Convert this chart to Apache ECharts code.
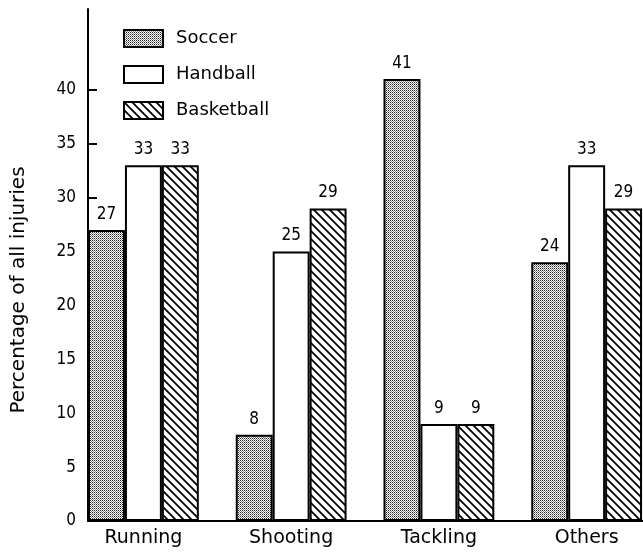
<!DOCTYPE html>
<html>
<head>
<meta charset="utf-8">
<script src="https://cdn.jsdelivr.net/npm/echarts@6/dist/echarts.min.js"></script>
<style>html,body{margin:0;padding:0;background:#fff}#c{width:643px;height:552px}</style>
</head>
<body>
<div id="c"></div>
<script>
var categories = ['Running', 'Shooting', 'Tackling', 'Others'];
var soccer = [27, 8, 41, 24];
var handball = [33, 25, 9, 33];
var basketball = [33, 29, 9, 29];
var yTicks = [0, 5, 10, 15, 20, 25, 30, 35, 40];

function makeStipple() {
  var c = document.createElement('canvas');
  c.width = 2; c.height = 2;
  var g = c.getContext('2d');
  g.fillStyle = '#fff'; g.fillRect(0, 0, 2, 2);
  g.fillStyle = '#222'; g.fillRect(0, 0, 1, 1);
  g.fillStyle = '#888'; g.fillRect(1, 1, 1, 1);
  return c;
}
function makeHatch() {
  var s = 8;
  var c = document.createElement('canvas');
  c.width = s; c.height = s;
  var g = c.getContext('2d');
  g.fillStyle = '#fff'; g.fillRect(0, 0, s, s);
  g.strokeStyle = '#000'; g.lineWidth = 1.8;
  g.beginPath();
  g.moveTo(-1, -1); g.lineTo(s + 1, s + 1);
  g.moveTo(-s - 1, -1); g.lineTo(1, s + 1);
  g.moveTo(s - 1, -s - 1); g.lineTo(2 * s + 1, s + 1);
  g.moveTo(-1, -s - 1); g.lineTo(s + 1, 1);
  g.moveTo(-1, s - 1); g.lineTo(s + 1, 2 * s + 1);
  g.stroke();
  return c;
}
var stipple = {image: makeStipple(), repeat: 'repeat'};
var hatch = {image: makeHatch(), repeat: 'repeat'};

var font = "'DejaVu Sans', sans-serif";
var numFont = "'DejaVu Sans Condensed', 'Liberation Sans Narrow', 'DejaVu Sans', sans-serif";
var labelStyle = {show: true, position: 'top', distance: 7, color: '#000', fontFamily: numFont, fontSize: 17};
function bar(name, data, color) {
  return {
    name: name, type: 'bar', data: data,
    barGap: '0%', barCategoryGap: '0%',
    itemStyle: {color: color, borderColor: '#000', borderWidth: 2},
    label: labelStyle,
    emphasis: {disabled: true}
  };
}

var chart = echarts.init(document.getElementById('c'));
chart.setOption({
  animation: false,
  backgroundColor: '#fff',
  grid: {left: 88, top: 9, width: 591, height: 512, outerBoundsMode: 'none', containLabel: false},
  legend: {
    orient: 'vertical', left: 123, top: 29, padding: 0, icon: 'rect',
    itemWidth: 39, itemHeight: 17, itemGap: 17,
    data: ['Soccer', 'Handball', 'Basketball'],
    textStyle: {fontFamily: font, fontSize: 18, color: '#000', padding: [0, 0, 0, 8]}
  },
  xAxis: {
    type: 'category', data: categories,
    axisLine: {lineStyle: {color: '#000', width: 2}},
    axisTick: {show: false},
    axisLabel: {color: '#000', fontFamily: font, fontSize: 19, margin: 8, padding: [0, 37, 0, 0]}
  },
  yAxis: {
    type: 'value', min: 0, max: 47.5, interval: 5,
    name: 'Percentage of all injuries', nameLocation: 'middle', nameGap: 59,
    nameTextStyle: {color: '#000', fontFamily: font, fontSize: 20, padding: [0, 50, 0, 0]},
    axisLine: {show: true, lineStyle: {color: '#000', width: 2}},
    axisTick: {show: true, inside: true, length: 9, customValues: yTicks, lineStyle: {color: '#000', width: 2}},
    axisLabel: {color: '#000', fontFamily: numFont, fontSize: 17, margin: 12, customValues: yTicks},
    splitLine: {show: false}
  },
  series: [
    bar('Soccer', soccer, stipple),
    bar('Handball', handball, '#fff'),
    bar('Basketball', basketball, hatch),
    {name: 'spacer', type: 'bar', data: [null, null, null, null], barGap: '0%', barCategoryGap: '0%', silent: true}
  ]
});
</script>
</body>
</html>
